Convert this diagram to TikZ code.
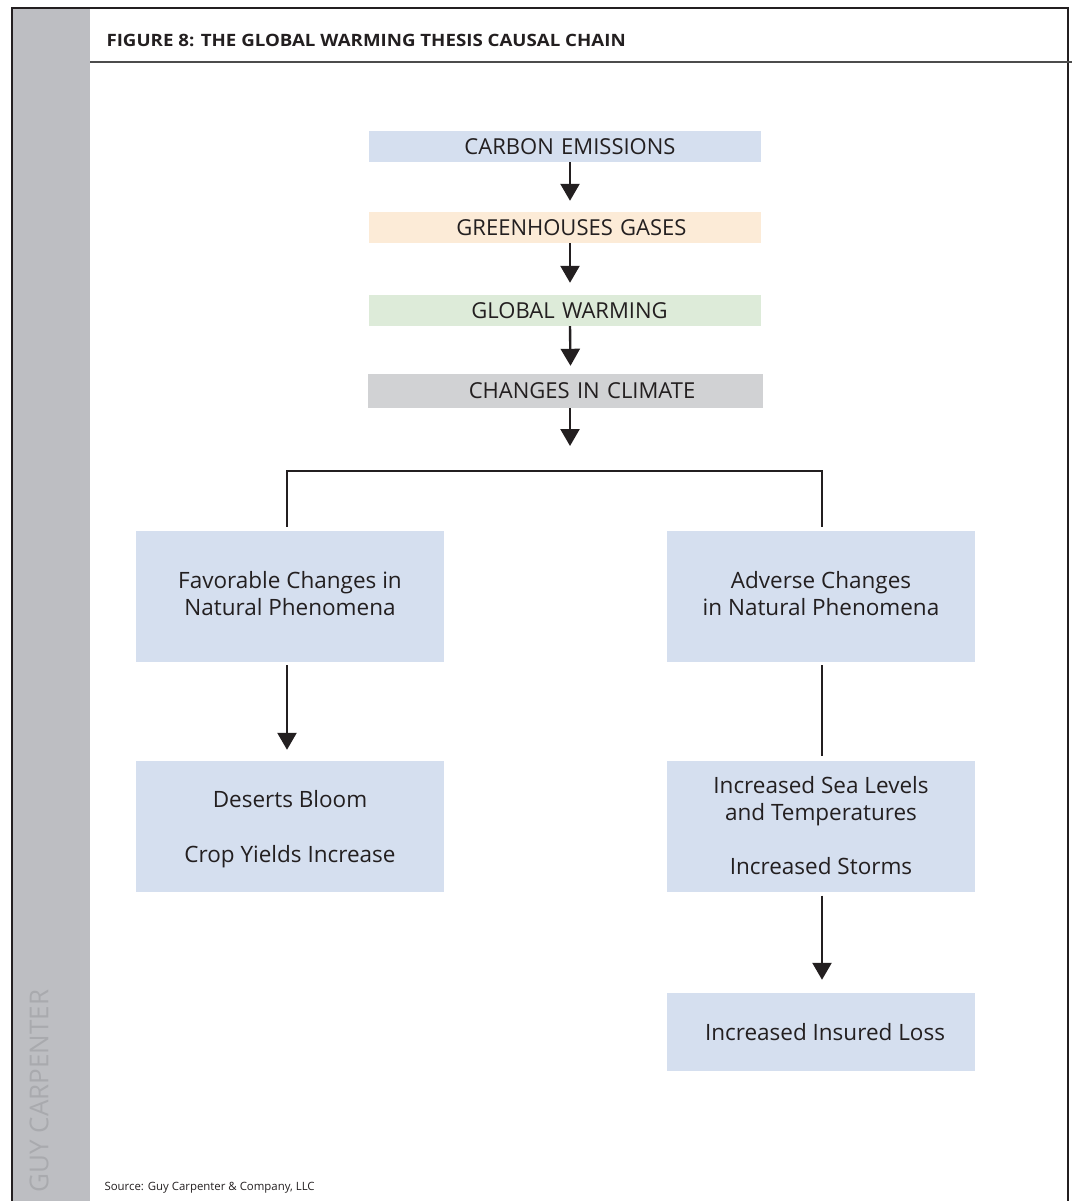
\documentclass[tikz,border=0pt]{standalone}
\usepackage{fontspec}
\setmainfont{Open Sans}
\usetikzlibrary{arrows.meta}
\definecolor{txt}{HTML}{231F20}
\definecolor{bluebox}{HTML}{D5DFEF}
\definecolor{peachbox}{HTML}{FCEBD7}
\definecolor{greenbox}{HTML}{DDEBD9}
\definecolor{graybox}{HTML}{D1D2D4}
\definecolor{band}{HTML}{BDBEC2}
\definecolor{bandtxt}{HTML}{A9AAAE}
\tikzset{
  chainbox/.style={fill=#1, draw=none, inner sep=0pt, minimum width=392pt, minimum height=31pt,
     text=txt, font=\fontsize{22}{26}\selectfont},
  bigbox/.style={fill=bluebox, draw=none, inner sep=0pt, minimum width=308pt, minimum height=131pt,
     text=txt, align=center, font=\fontsize{22.5}{27}\selectfont},
  boxtext/.style={inner sep=0pt, text=txt, align=center, font=\fontsize{22.5}{27}\selectfont},
  arr/.style={draw=txt, line width=2.4pt, -{Triangle[width=19pt,length=17pt]}},
  conn/.style={draw=txt, line width=2.2pt},
}
\begin{document}
\begin{tikzpicture}[x=1pt,y=-1pt]
\useasboundingbox (0,0) rectangle (1072,1201);
% frame and band
\fill[band] (12,8) rectangle (90,1201);
\draw[txt, line width=1.6pt] (12,1201) -- (12,8) -- (1068,8) -- (1068,1201);
\draw[black!70, line width=1.6pt] (90,62) -- (1072,62);
\node[anchor=west, text=txt, font=\bfseries\fontsize{17}{19}\selectfont] (title) at (103,40) {\scalebox{1.1}[1]{FIGURE 8: THE GLOBAL WARMING THESIS CAUSAL CHAIN}};
\node[rotate=90, anchor=west, text=bandtxt, font=\fontsize{26}{29}\selectfont] (guy) at (39,1196) {GUY CARPENTER};
\node[anchor=west, text=txt, font=\fontsize{11.4}{13}\selectfont] (src) at (101,1188) {Source: Guy Carpenter \& Company, LLC};
% chain
\node[chainbox=bluebox, text width=392pt, align=center] (ce) at (565,146.5) {\hspace*{10pt}CARBON EMISSIONS};
\node[chainbox=peachbox, text width=392pt, align=center] (gg) at (565,227.5) {\hspace*{13pt}GREENHOUSES GASES};
\node[chainbox=greenbox, text width=392pt, align=center] (gw) at (565,310.5) {\hspace*{9pt}GLOBAL WARMING};
\node[chainbox=graybox, minimum width=395pt, minimum height=34pt, text width=395pt, align=center] (cc) at (565.5,391) {\hspace*{33pt}CHANGES IN CLIMATE};
\coordinate (split) at (570,471);
\draw[arr] ([xshift=5pt]ce.south) -- ([xshift=5pt,yshift=11pt]gg.north);
\draw[arr] ([xshift=5pt]gg.south) -- ([xshift=5pt,yshift=12pt]gw.north);
\draw[arr] ([xshift=5pt]gw.south) -- ([xshift=5pt,yshift=8pt]cc.north);
\draw[arr] ([xshift=4.5pt]cc.south) -- ([yshift=25pt]split);
% second level
\node[bigbox] (fav) at (290,596.5) {Favorable Changes in\\Natural Phenomena\\[-20pt]\mbox{}};
\node[bigbox] (adv) at (821,596.5) {Adverse Changes\\in Natural Phenomena\\[-20pt]\mbox{}};
\node[bigbox] (des) at (290,826.5) {};
\node[boxtext] (destext) at ([yshift=-3pt]des.center) {Deserts Bloom\\[28pt]Crop Yields Increase};
\node[bigbox] (sea) at (821,826) {Increased Sea Levels\\and Temperatures\\[27pt]Increased Storms};
\node[bigbox, minimum height=78pt] (loss) at (821,1032) {\hspace*{8pt}Increased Insured Loss};
\draw[conn] ([xshift=-3pt,yshift=4pt]fav.north) |- (split) -| ([xshift=1pt,yshift=4pt]adv.north);
\draw[arr] ([xshift=-3pt,yshift=-3pt]fav.south) -- ([xshift=-3pt,yshift=11pt]des.north);
\draw[conn] ([xshift=1pt,yshift=-3pt]adv.south) -- ([xshift=1pt,yshift=4pt]sea.north);
\draw[arr] ([xshift=1pt,yshift=-4pt]sea.south) -- ([xshift=1pt,yshift=13pt]loss.north);
\end{tikzpicture}
\end{document}
